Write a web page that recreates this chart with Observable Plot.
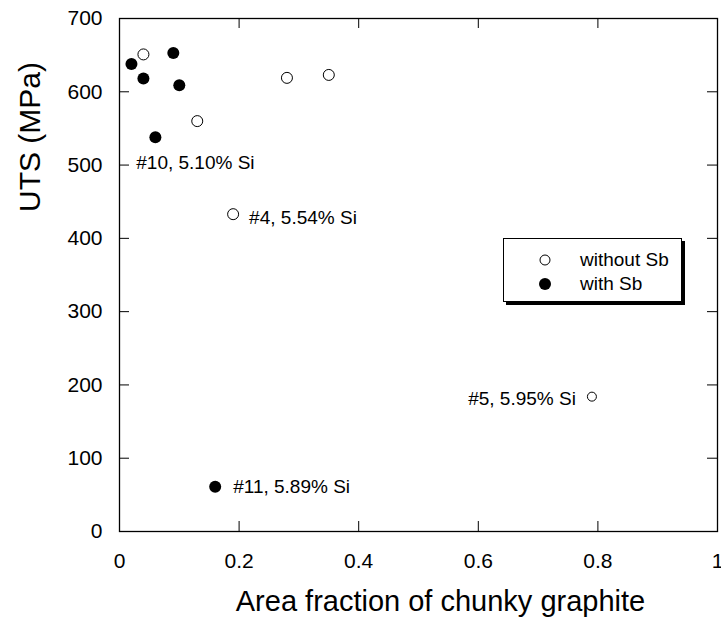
<!DOCTYPE html>
<html><head><meta charset="utf-8">
<script src="https://cdn.jsdelivr.net/npm/d3@7"></script>
<script src="https://cdn.jsdelivr.net/npm/@observablehq/plot@0.6"></script>
<style>
body{margin:0;background:#fff;}
#wrap{position:relative;width:721px;height:617px;}
#legend{position:absolute;left:503px;top:238px;width:177px;height:62px;border:1px solid #000;background:#fff;box-shadow:3px 3px 0 #000;font-family:"Liberation Sans",Arial,sans-serif;font-size:19px;color:#000;}
#legend .row{position:absolute;left:0;width:177px;height:24px;}
#legend svg{position:absolute;left:33px;top:0;}
#legend span{position:absolute;left:76px;top:1px;line-height:22px;}
</style></head>
<body><div id="wrap"></div>
<script>
// Data
const withoutX = [0.04, 0.13, 0.28, 0.35, 0.19, 0.79];
const withoutY = [651, 560, 619, 623, 433, 184];
const withoutR = [5.5, 5.5, 5.5, 5.5, 5.5, 4.5];
const withX = [0.02, 0.04, 0.06, 0.09, 0.10, 0.16];
const withY = [638, 618, 538, 653, 609, 61];
const xTicks = [0, 0.2, 0.4, 0.6, 0.8, 1];
const xTickLabels = ["0", "0.2", "0.4", "0.6", "0.8", "1"];
const yTicks = [0, 100, 200, 300, 400, 500, 600, 700];
const yTickLabels = ["0", "100", "200", "300", "400", "500", "600", "700"];
const annoText = ["#10, 5.10% Si", "#4, 5.54% Si", "#5, 5.95% Si", "#11, 5.89% Si"];
const annoX = [0.028, 0.19, 0.79, 0.16];
const annoY = [503, 433, 184, 61];
const annoAnchor = ["start", "start", "end", "start"];
const seriesNames = ["without Sb", "with Sb"];
const xTitle = "Area fraction of chunky graphite";
const yTitle = "UTS (MPa)";

// Layout
const W = 721, H = 617, mL = 119, mR = 4, mT = 18, mB = 86;
const innerW = W - mL - mR, innerH = H - mT - mB, tick = 10;
const annoDx = [0, 16, -16, 18];
const annoDy = [0, 4, 2, 0];

const openData = withoutX.map((x, i) => ({x, y: withoutY[i], r: withoutR[i]}));
const filledData = withX.map((x, i) => ({x, y: withY[i]}));
const annoData = annoText.map((t, i) => ({t, x: annoX[i], y: annoY[i], a: annoAnchor[i], dx: annoDx[i], dy: annoDy[i]}));

const font = "'Liberation Sans', Arial, Helvetica, sans-serif";

const annoMarks = annoData.map(d => Plot.text([d], {
  x: "x", y: "y", text: "t", textAnchor: d.a, dx: d.dx, dy: d.dy, fontSize: 19, fill: "#000"
}));

const chart = Plot.plot({
  width: W, height: H,
  marginLeft: mL, marginRight: mR, marginTop: mT, marginBottom: mB,
  style: {fontFamily: font, fontSize: "21px", color: "#000", background: "#fff", overflow: "visible"},
  x: {domain: [0, 1], ticks: xTicks, tickSize: 0, tickPadding: 22, tickFormat: d => xTickLabels[xTicks.indexOf(d)], label: null},
  y: {domain: [0, 700], ticks: yTicks, tickSize: 0, tickPadding: 17, tickFormat: d => yTickLabels[yTicks.indexOf(d)], label: null},
  r: {type: "identity"},
  marks: [
    Plot.ruleX(xTicks, {x: d => d, insetTop: innerH - tick, stroke: "#000"}),
    Plot.ruleX(xTicks, {x: d => d, insetBottom: innerH - tick, stroke: "#000"}),
    Plot.ruleY(yTicks, {y: d => d, insetRight: innerW - tick, stroke: "#000"}),
    Plot.ruleY(yTicks, {y: d => d, insetLeft: innerW - tick, stroke: "#000"}),
    Plot.frame({stroke: "#000", strokeWidth: 1.3}),
    Plot.dot(openData, {x: "x", y: "y", r: "r", fill: "#fff", stroke: "#000", strokeWidth: 1}),
    Plot.dot(filledData, {x: "x", y: "y", r: 6, fill: "#000", stroke: "none"}),
    ...annoMarks,
    Plot.text([xTitle], {frameAnchor: "bottom", textAnchor: "middle", dx: 22, dy: 79, lineAnchor: "bottom", fontSize: 29, fill: "#000"}),
    Plot.text([yTitle], {frameAnchor: "left", textAnchor: "middle", lineAnchor: "middle", dx: -89, dy: -138, rotate: -90, fontSize: 30, fill: "#000"})
  ]
});

const wrap = document.getElementById("wrap");
wrap.appendChild(chart);

// Legend
const legend = document.createElement("div");
legend.id = "legend";
seriesNames.forEach((name, i) => {
  const row = document.createElement("div");
  row.className = "row";
  row.style.top = (9 + i * 24) + "px";
  const open = i === 0;
  row.innerHTML = `<svg width="16" height="24"><circle cx="8" cy="12" r="${open ? 5 : 6}" fill="${open ? "#fff" : "#000"}" stroke="${open ? "#000" : "none"}" stroke-width="1"/></svg><span>${name}</span>`;
  legend.appendChild(row);
});
wrap.appendChild(legend);
</script>
</body></html>
